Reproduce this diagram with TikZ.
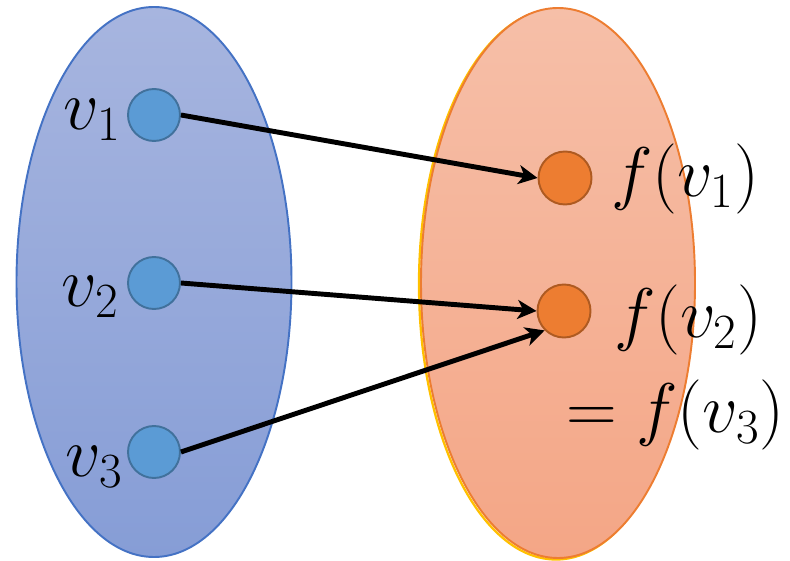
\RequirePackage{fix-cm}
\documentclass[tikz,border=0pt]{standalone}
\usetikzlibrary{arrows.meta}

\definecolor{setblueline}{RGB}{68,114,196}
\definecolor{setbluetop}{RGB}{167,181,223}
\definecolor{setbluebot}{RGB}{134,157,214}
\definecolor{setorangeline}{RGB}{237,125,49}
\definecolor{setorangeedge}{RGB}{255,192,0}
\definecolor{setorangetop}{RGB}{246,191,168}
\definecolor{setorangebot}{RGB}{244,166,134}
\definecolor{dotblue}{RGB}{91,155,213}
\definecolor{dotblueline}{RGB}{65,113,156}
\definecolor{dotorange}{RGB}{237,125,49}
\definecolor{dotorangeline}{RGB}{174,90,33}

\begin{document}
\begin{tikzpicture}[
    dom/.style={circle, draw=dotblueline, fill=dotblue, line width=1.1pt, minimum size=1.04cm, inner sep=0pt},
    img/.style={circle, draw=dotorangeline, fill=dotorange, line width=1.1pt, minimum size=1.06cm, inner sep=0pt},
    maps/.style={line width=2.8pt, -{Stealth[length=3.8mm, width=3.8mm, inset=1.1mm]}},
    lab/.style={inner sep=0pt, font=\fontsize{40}{46}\selectfont}]
    \useasboundingbox (0, 0) rectangle (15.8, 11.2);

    % the two sets
    \shade[top color=setbluetop, bottom color=setbluebot] (3.08, 5.56) ellipse (2.75 and 5.5);
    \draw[setblueline, line width=1.1pt] (3.08, 5.56) ellipse (2.75 and 5.5);
    \draw[setorangeedge, line width=1.3pt] (11.12, 5.51) ellipse (2.74 and 5.5);
    \shade[top color=setorangetop, bottom color=setorangebot] (11.16, 5.54) ellipse (2.74 and 5.5);
    \draw[setorangeline, line width=1.1pt] (11.16, 5.54) ellipse (2.74 and 5.5);

    % domain points
    \node[dom] (v1) at (3.08, 8.90) {};
    \node[dom] (v2) at (3.08, 5.54) {};
    \node[dom] (v3) at (3.08, 2.16) {};
    \node[lab, left] at (2.42, 8.80) {$v_1$};
    \node[lab, left] at (2.38, 5.26) {$v_2$};
    \node[lab, left] at (2.46, 1.86) {$v_3$};

    % image points
    \node[lab, right] at (12.22, 7.62) {$f(v_1)$};
    \node[lab, right] at (12.28, 4.80) {$f(v_2)$};
    \node[lab, right] at (11.32, 2.90) {$= f(v_3)$};
    \node[img] (fv1) at (11.30, 7.64) {};
    \node[img] (fv2) at (11.28, 4.98) {};

    \draw[maps] (v1.east) -- (fv1.west);
    \draw[maps] (v2.east) -- (fv2.west);
    \draw[maps] (v3.east) -- (fv2.south west);
\end{tikzpicture}
\end{document}
